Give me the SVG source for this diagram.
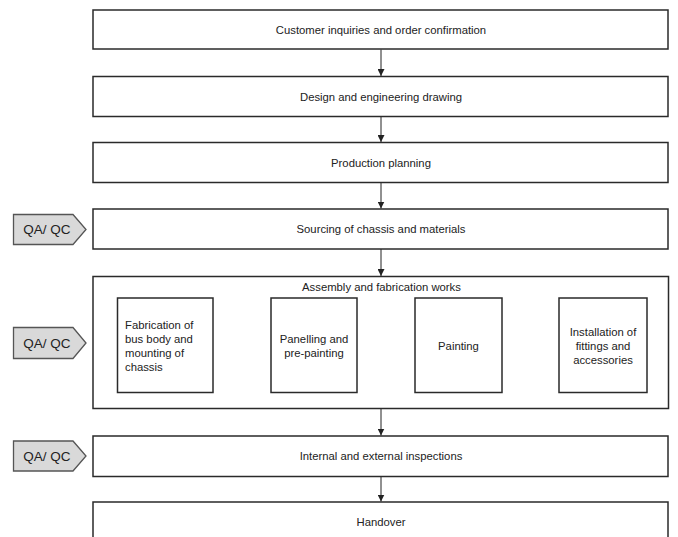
<svg xmlns="http://www.w3.org/2000/svg" width="678" height="537" viewBox="0 0 678 537">
<style>
.box{fill:#fff;stroke:#2a2a2a;stroke-width:1.5}
.tag{fill:#d9d9d9;stroke:#555;stroke-width:1.3}
.t{font-family:"Liberation Sans",Arial,sans-serif;font-size:11.3px;fill:#222;text-anchor:middle}
.tl{font-family:"Liberation Sans",Arial,sans-serif;font-size:11.3px;fill:#222}
.q{font-family:"Liberation Sans",Arial,sans-serif;font-size:13.5px;fill:#222;text-anchor:middle}
.c{stroke:#222;stroke-width:1;fill:none;marker-end:url(#ah)}
</style>
<defs>
<marker id="ah" viewBox="0 0 8 8" refX="8" refY="4" markerWidth="7" markerHeight="7" markerUnits="userSpaceOnUse" orient="auto">
<path d="M0,0 L8,4 L0,8 Z" fill="#222"/>
</marker>
</defs>
<rect width="678" height="537" fill="#fff"/>
<g id="connectors">
<line class="c" x1="381" y1="49.5" x2="381" y2="76"/>
<line class="c" x1="381" y1="116.5" x2="381" y2="142"/>
<line class="c" x1="381" y1="182.5" x2="381" y2="208.5"/>
<line class="c" x1="381" y1="249" x2="381" y2="276"/>
<line class="c" x1="381" y1="408.5" x2="381" y2="435.5"/>
<line class="c" x1="381" y1="476.5" x2="381" y2="501.5"/>
<line class="c" x1="213" y1="343.5" x2="270.5" y2="343.5"/>
<line class="c" x1="357" y1="343.5" x2="414.5" y2="343.5"/>
<line class="c" x1="502" y1="343.5" x2="558.5" y2="343.5"/>
</g>
<g id="n1"><rect class="box" x="93" y="10" width="575" height="39"/><text class="t" x="381" y="33.5">Customer inquiries and order confirmation</text></g>
<g id="n2"><rect class="box" x="93" y="76.5" width="575" height="40"/><text class="t" x="381" y="100.5">Design and engineering drawing</text></g>
<g id="n3"><rect class="box" x="93" y="142.5" width="575" height="40"/><text class="t" x="381" y="166.5">Production planning</text></g>
<g id="n4"><rect class="box" x="93" y="209" width="575" height="40"/><text class="t" x="381" y="233">Sourcing of chassis and materials</text></g>
<g id="n5"><rect class="box" x="93" y="276.5" width="575.5" height="132"/><text class="t" x="381.5" y="290.5">Assembly and fabrication works</text></g>
<g id="n5a"><rect class="box" x="117.5" y="298" width="95.5" height="94.5"/>
<text class="tl" x="125" y="328.7">Fabrication of</text>
<text class="tl" x="125" y="342.7">bus body and</text>
<text class="tl" x="125" y="356.7">mounting of</text>
<text class="tl" x="125" y="370.7">chassis</text></g>
<g id="n5b"><rect class="box" x="271" y="298" width="86" height="94.5"/>
<text class="t" x="314" y="343">Panelling and</text>
<text class="t" x="314" y="357">pre-painting</text></g>
<g id="n5c"><rect class="box" x="415" y="298" width="87" height="94.5"/>
<text class="t" x="458.5" y="349.7">Painting</text></g>
<g id="n5d"><rect class="box" x="559" y="298" width="88" height="94.5"/>
<text class="t" x="603" y="335.7">Installation of</text>
<text class="t" x="603" y="349.7">fittings and</text>
<text class="t" x="603" y="363.7">accessories</text></g>
<g id="n6"><rect class="box" x="93" y="436" width="575" height="40.5"/><text class="t" x="381" y="460">Internal and external inspections</text></g>
<g id="n7"><rect class="box" x="93" y="502" width="575" height="45"/><text class="t" x="381" y="526">Handover</text></g>
<g id="qa1"><path class="tag" d="M13.5,214.5 H73 L86,229.5 L73,244.5 H13.5 Z"/><text class="q" x="47" y="234.3">QA/ QC</text></g>
<g id="qa2"><path class="tag" d="M13.5,327.5 H73 L86,343 L73,358.5 H13.5 Z"/><text class="q" x="47" y="347.8">QA/ QC</text></g>
<g id="qa3"><path class="tag" d="M13.5,441 H73 L86,456 L73,471 H13.5 Z"/><text class="q" x="47" y="460.8">QA/ QC</text></g>
</svg>
